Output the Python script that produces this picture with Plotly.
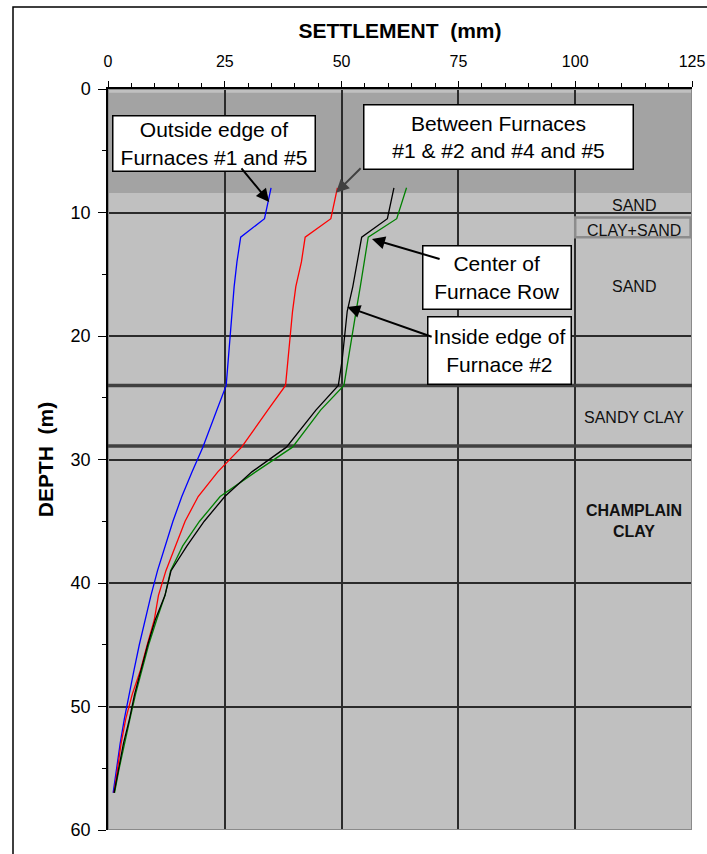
import plotly.graph_objects as go

# ---- data ----
depth_m = [8.0, 10.5, 12.0, 14.0, 16.0, 18.0, 20.0, 22.0, 24.0, 26.0, 29.0, 31.0, 33.0,
           35.0, 37.0, 39.0, 41.0, 43.0, 45.0, 47.0, 49.0, 51.0, 53.0, 55.0, 57.0]

outside_edge = [34.9, 33.5, 28.4, 27.6, 27.0, 26.6, 26.2, 25.8, 25.3, 23.3, 20.3, 18.0, 15.8,
                13.9, 12.2, 10.6, 9.2, 7.9, 6.7, 5.6, 4.5, 3.5, 2.6, 1.8, 1.1]
between_furn = [49.1, 47.7, 42.2, 41.4, 40.2, 39.5, 39.0, 38.5, 38.0, 34.2, 28.6, 23.5, 19.3,
                16.5, 14.5, 12.4, 10.8, 9.9, 8.4, 7.0, 5.2, 3.8, 2.8, 2.0, 1.3]
center_row = [61.2, 59.8, 54.3, 53.4, 52.4, 51.2, 50.6, 50.1, 49.3, 44.5, 38.2, 30.8, 25.0,
              20.6, 16.9, 13.5, 12.2, 10.1, 8.5, 7.1, 5.7, 4.6, 3.3, 2.3, 1.3]
inside_edge = [63.9, 61.8, 55.7, 54.9, 54.0, 53.1, 52.2, 51.4, 50.5, 45.5, 39.5, 31.6, 24.0,
               19.6, 16.0, 13.4, 12.2, 10.4, 8.7, 7.3, 5.9, 4.7, 3.5, 2.4, 1.4]

x_ticks = [0, 25, 50, 75, 100, 125]
y_ticks = [0, 10, 20, 30, 40, 50, 60]

layer_names = ["SAND", "CLAY+SAND", "SAND", "SANDY CLAY", "<b>CHAMPLAIN<br>CLAY</b>"]
layer_label_depth = [9.43, 11.46, 16.0, 26.56, 35.0]
layer_boundaries = [24.0, 28.9]
clay_sand_top, clay_sand_bottom = 10.4, 12.0
furnace_zone = (0.3, 8.43)

FONT = "Liberation Sans, Arial, sans-serif"

# plot area at 108..692 x 89..830 (body margin removed below)
ML, MT = 108, 89
PW, PH = 584, 741

fig = go.Figure()

series = [
    ("Outside edge", outside_edge, "#0000FF"),
    ("Between furnaces", between_furn, "#FF0000"),
    ("Inside edge", inside_edge, "#008000"),
    ("Center row", center_row, "#000000"),
]
for name, vals, col in series:
    fig.add_trace(go.Scatter(x=vals, y=depth_m, mode="lines", name=name,
                             line=dict(color=col, width=1.3), showlegend=False,
                             hoverinfo="skip"))

shapes = []
# plot border (gray)
shapes.append(dict(type="rect", xref="x", yref="y", x0=0, x1=125, y0=0, y1=60,
                   line=dict(color="#8a8a8a", width=2), layer="between"))
# darker furnace zone band
shapes.append(dict(type="rect", xref="x", yref="y", x0=0, x1=125,
                   y0=furnace_zone[0], y1=furnace_zone[1],
                   fillcolor="#A3A3A3", line=dict(width=0), layer="below"))
# layer boundaries
for d in layer_boundaries:
    shapes.append(dict(type="line", xref="x", yref="y", x0=0, x1=125, y0=d, y1=d,
                       line=dict(color="#404040", width=3.5), layer="between"))
# clay+sand lens box
shapes.append(dict(type="rect", xref="x", yref="y", x0=100, x1=124.7,
                   y0=clay_sand_top, y1=clay_sand_bottom,
                   fillcolor="#C0C0C0", line=dict(color="#8c8c8c", width=2.5), layer="between"))
# outer frame
shapes.append(dict(type="rect", xref="paper", yref="paper",
                   x0=(13 - ML) / PW, x1=1.3, y0=-0.3, y1=(PH + MT - 7) / PH,
                   line=dict(color="#000000", width=1.5), layer="above"))

annotations = []
# layer labels
for name, d in zip(layer_names, layer_label_depth):
    annotations.append(dict(x=112.5, y=d, xref="x", yref="y", text=name, showarrow=False,
                            font=dict(family=FONT, size=16, color="#111111")))

# callout boxes
boxes = [
    ("Outside edge of<br>Furnaces #1 and #5", 22.6, 4.45, 201, 54),
    ("Between Furnaces<br>#1 & #2 and #4 and #5", 83.5, 3.85, 268, 63),
    ("Center of<br>Furnace Row", 83.2, 15.3, 147, 62),
    ("Inside edge of<br>Furnace #2", 83.7, 21.2, 142, 66),
]
for txt, bx, by, w, h in boxes:
    annotations.append(dict(x=bx, y=by, xref="x", yref="y", text=txt, showarrow=False,
                            width=w, height=h, bgcolor="white", bordercolor="black",
                            borderwidth=1.5, borderpad=0,
                            font=dict(family=FONT, size=21, color="black")))
# arrows (tail -> head)
arrows = [
    (28.3, 6.3, 34.5, 9.15, "black"),
    (54.4, 6.3, 48.8, 8.4, "#404040"),
    (71.3, 13.8, 56.5, 12.15, "black"),
    (69.6, 20.1, 51.2, 17.65, "black"),
]
for tx, ty, hx, hy, col in arrows:
    annotations.append(dict(x=hx, y=hy, ax=tx, ay=ty, xref="x", yref="y",
                            axref="x", ayref="y", text="", showarrow=True,
                            arrowhead=2, arrowsize=1.3, arrowwidth=2, arrowcolor=col))

fig.update_layout(
    width=707, height=854,
    margin=dict(l=ML, r=707 - ML - PW, t=MT, b=854 - MT - PH, autoexpand=False),
    paper_bgcolor="white",
    plot_bgcolor="#C0C0C0",
    font=dict(family=FONT, color="black"),
    shapes=shapes,
    annotations=annotations,
    showlegend=False,
)
fig.update_xaxes(
    side="top", range=[0, 125], tickvals=x_ticks, ticktext=[str(v) for v in x_ticks],
    automargin=False,
    ticks="outside", ticklen=6, tickwidth=1.2, tickcolor="black",
    showline=True, linecolor="black", linewidth=1.5,
    showgrid=True, gridcolor="#2b2b2b", gridwidth=1.5,
    zeroline=False, tickfont=dict(family=FONT, size=16),
    ticklabelstandoff=8,
    minor=dict(dtick=5, ticks="outside", ticklen=4, tickcolor="black", showgrid=False),
    title=dict(text="<b>SETTLEMENT  (mm)</b>", font=dict(family=FONT, size=21), standoff=8),
)
fig.update_yaxes(
    range=[60, 0], tickvals=y_ticks, ticktext=[str(v) for v in y_ticks],
    automargin=False,
    ticks="outside", ticklen=8, tickwidth=1.2, tickcolor="black",
    showline=True, linecolor="black", linewidth=1.5,
    showgrid=True, gridcolor="#2b2b2b", gridwidth=1.5,
    zeroline=False, tickfont=dict(family=FONT, size=18),
    ticklabelstandoff=4,
    minor=dict(dtick=5, ticks="outside", ticklen=4, tickcolor="black", showgrid=False),
    title=dict(text="<b>DEPTH  (m)</b>", font=dict(family=FONT, size=21), standoff=11),
)

fig.write_html(
    "out.html",
    config={"displayModeBar": False},
    post_script="document.body.style.margin='0';document.body.style.overflow='hidden';",
)
